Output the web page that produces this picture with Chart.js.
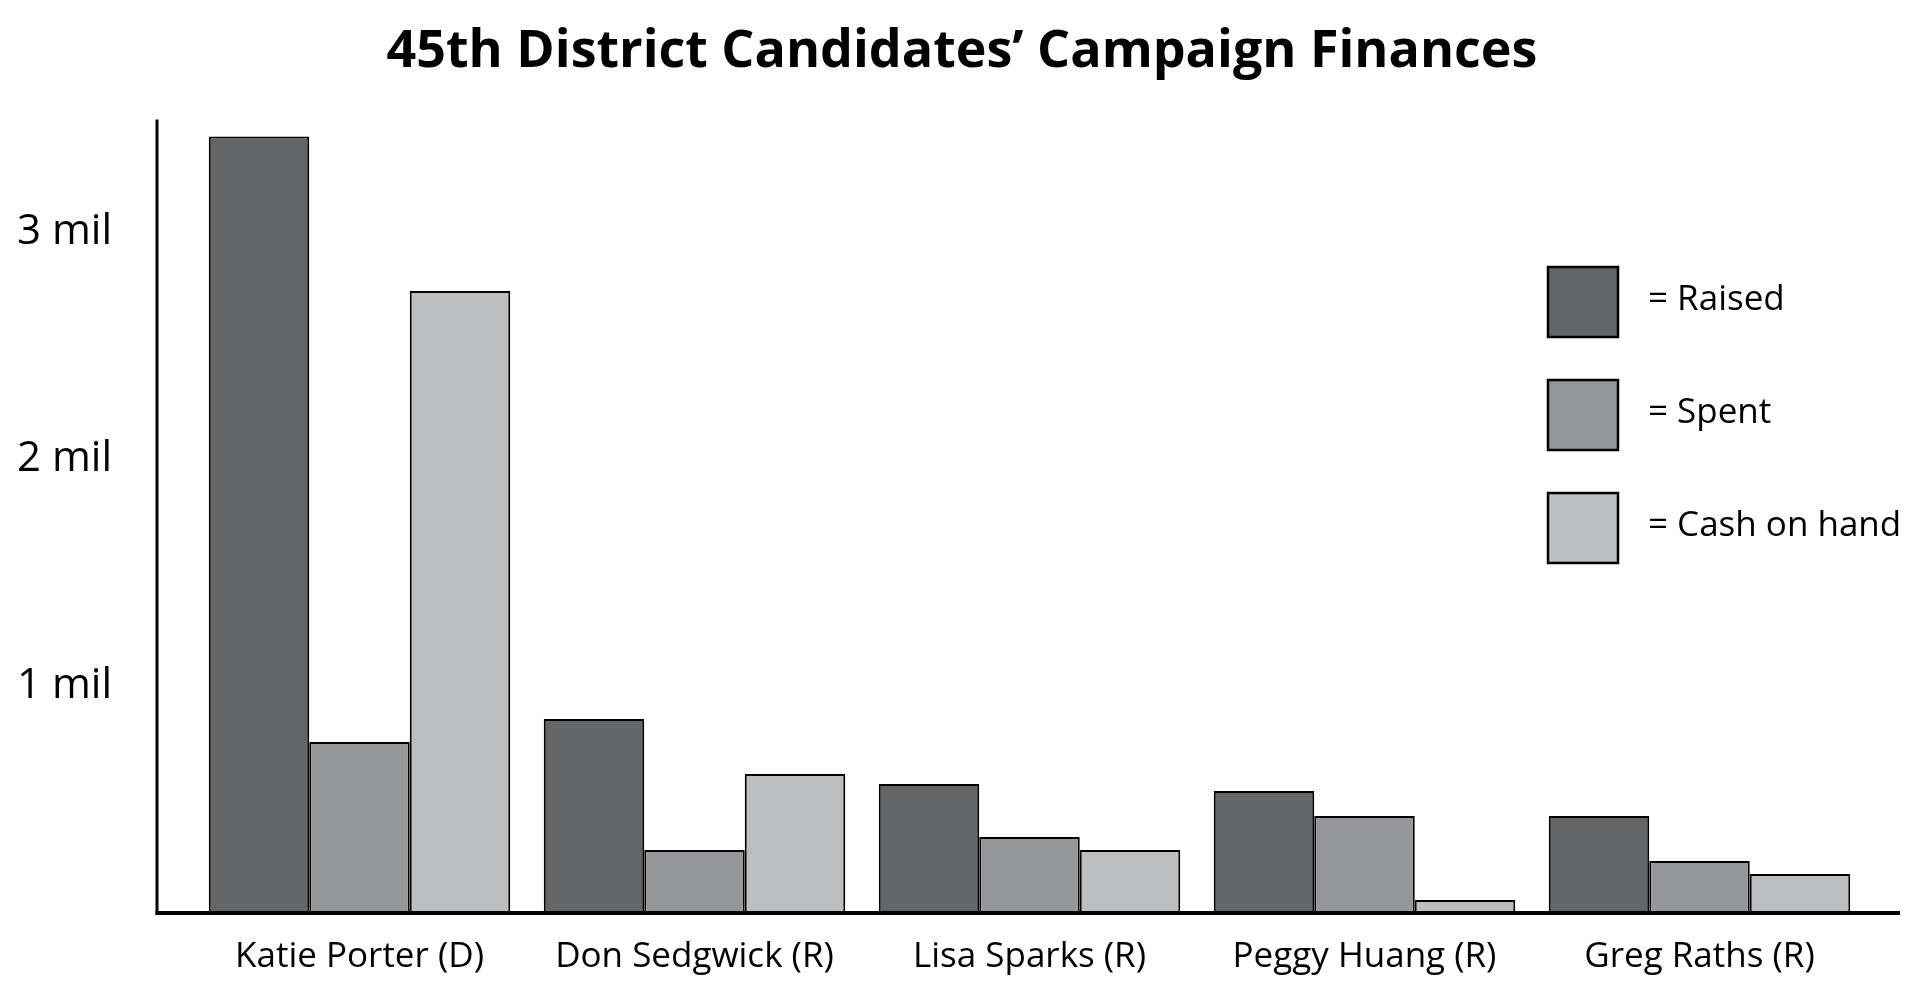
<!DOCTYPE html>
<html>
<head>
<meta charset="utf-8">
<script src="https://cdn.jsdelivr.net/npm/chart.js@4"></script>
<style>
  html, body { margin: 0; padding: 0; background: #fff; }
  #wrap { width: 1931px; height: 987px; }
</style>
</head>
<body>
<div id="wrap"><canvas id="financeChart"></canvas></div>
<script>
// Data (millions of dollars)
const candidates = ["Katie Porter (D)", "Don Sedgwick (R)", "Lisa Sparks (R)", "Peggy Huang (R)", "Greg Raths (R)"];
const raised = [3.42, 0.855, 0.568, 0.537, 0.427];
const spent = [0.753, 0.278, 0.335, 0.427, 0.229];
const cashOnHand = [2.74, 0.612, 0.278, 0.057, 0.172];
const seriesNames = ["Raised", "Spent", "Cash on hand"];
const seriesColors = ["#646567", "#95969a", "#bdbec0"];

// axes drawn by hand so they run past the bar area like the original
const axisLines = {
  id: "axisLines",
  afterDatasetsDraw(chart) {
    const ctx = chart.ctx;
    const area = chart.chartArea;
    const zero = chart.scales.y.getPixelForValue(0);
    ctx.save();
    ctx.strokeStyle = "#000";
    ctx.lineWidth = 3;
    ctx.beginPath();
    ctx.moveTo(area.left - 35, area.top + 1);
    ctx.lineTo(area.left - 35, zero + 2);
    ctx.stroke();
    ctx.lineWidth = 4;
    ctx.beginPath();
    ctx.moveTo(area.left - 36.5, zero);
    ctx.lineTo(area.right + 33, zero);
    ctx.stroke();
    ctx.restore();
  }
};

// legend: square swatch + "= label"
const boxLegend = {
  id: "boxLegend",
  afterDraw(chart) {
    const ctx = chart.ctx;
    ctx.save();
    chart.data.datasets.forEach((ds, i) => {
      const top = 267 + i * 113;
      ctx.fillStyle = ds.backgroundColor;
      ctx.fillRect(1548, top, 70, 70);
      ctx.strokeStyle = "#000";
      ctx.lineWidth = 2.5;
      ctx.strokeRect(1548, top, 70, 70);
      ctx.fillStyle = "#000";
      ctx.font = '35px "Open Sans"';
      ctx.textBaseline = "middle";
      ctx.textAlign = "left";
      ctx.fillText("= " + ds.label, 1648, top + 33);
    });
    ctx.restore();
  }
};

const series = [raised, spent, cashOnHand];

new Chart(document.getElementById("financeChart"), {
  type: "bar",
  data: {
    labels: candidates,
    datasets: series.map((vals, i) => ({
      label: seriesNames[i],
      data: vals,
      backgroundColor: seriesColors[i],
      borderColor: "#000",
      borderWidth: 2,
      categoryPercentage: 0.9,
      barPercentage: 1.0
    }))
  },
  options: {
    responsive: true,
    maintainAspectRatio: false,
    animation: false,
    layout: { padding: { left: 17, right: 24, top: 0, bottom: 4 } },
    plugins: {
      legend: { display: false },
      tooltip: { enabled: false },
      title: {
        display: true,
        text: "45th District Candidates\u2019 Campaign Finances",
        color: "#000",
        font: { family: "Open Sans", size: 52, weight: "bold", lineHeight: 1.2 },
        padding: { top: 21, bottom: 35 }
      }
    },
    scales: {
      x: {
        grid: { display: false, drawTicks: false },
        border: { display: false },
        afterFit(scale) { scale.height = 70; },
        ticks: {
          color: "#000",
          padding: 23,
          font: { family: "Open Sans", size: 35, lineHeight: 1.2 }
        }
      },
      y: {
        min: 0,
        max: 3.5,
        grid: { display: false, drawTicks: false },
        border: { display: false },
        afterFit(scale) { scale.width = 175; },
        ticks: {
          stepSize: 1,
          color: "#000",
          padding: 0,
          crossAlign: "far",
          font: { family: "Open Sans", size: 42, lineHeight: 1.2 },
          callback: v => (v >= 1 && Number.isInteger(v)) ? v + " mil" : ""
        }
      },
      // empty right-hand axis, only reserves room on the right
      yRight: {
        position: "right",
        grid: { display: false, drawTicks: false },
        border: { display: false },
        ticks: { display: false },
        afterFit(scale) { scale.width = 40; }
      }
    }
  },
  plugins: [axisLines, boxLegend]
});
</script>
</body>
</html>
